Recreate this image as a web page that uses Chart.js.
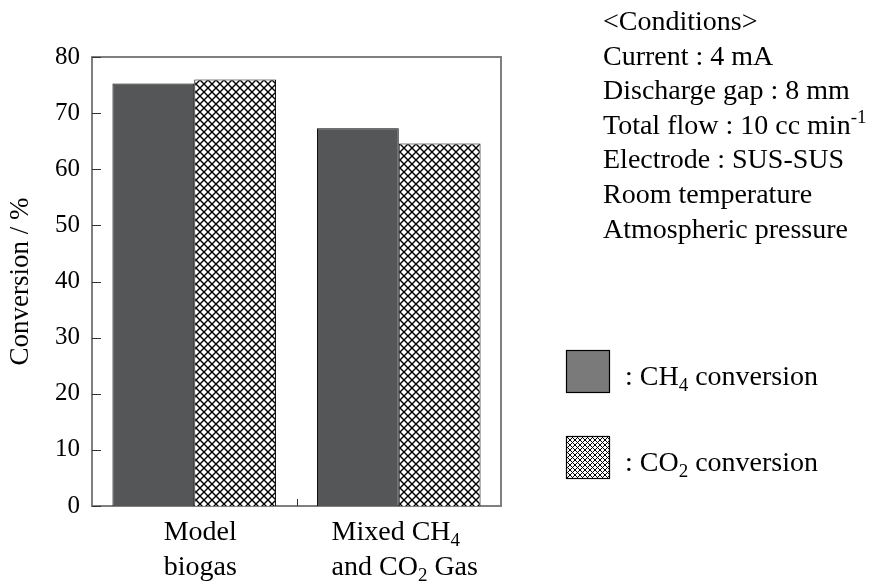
<!DOCTYPE html>
<html>
<head>
<meta charset="utf-8">
<script src="https://cdn.jsdelivr.net/npm/chart.js@4.4.1/dist/chart.umd.min.js"></script>
<style>
  html, body { margin: 0; padding: 0; background: #fff; }
  #wrap { width: 876px; height: 582px; position: relative; }
</style>
</head>
<body>
<div id="wrap"><canvas id="c" width="876" height="582"></canvas></div>
<script>
  // values
  const categories = ['Model biogas', 'Mixed CH4 and CO2 Gas'];
  const categoryLines = [
    ['Model', 'biogas'],
    ['Mixed CH_{4}', 'and CO_{2} Gas'],
  ];
  const ch4Conversion = [75.3, 67.3];
  const co2Conversion = [76.0, 64.6];
  const yTicks = [0, 10, 20, 30, 40, 50, 60, 70, 80];
  const conditions = [
    '<Conditions>',
    'Current : 4 mA',
    'Discharge gap : 8 mm',
    'Total flow : 10 cc min^{-1}',
    'Electrode : SUS-SUS',
    'Room temperature',
    'Atmospheric pressure',
  ];
  const legendLabels = [': CH_{4} conversion', ': CO_{2} conversion'];

  const FONT = "'Liberation Serif', 'Times New Roman', serif";
  const AXIS = '#7f7f7f';

  function hatch(size, lw) {
    const c = document.createElement('canvas');
    c.width = size; c.height = size;
    const g = c.getContext('2d');
    g.fillStyle = '#fff';
    g.fillRect(0, 0, size, size);
    g.strokeStyle = '#000';
    g.lineWidth = lw;
    g.beginPath();
    g.moveTo(-1, -1); g.lineTo(size + 1, size + 1);
    g.moveTo(size + 1, -1); g.lineTo(-1, size + 1);
    g.stroke();
    return document.getElementById('c').getContext('2d').createPattern(c, 'repeat');
  }

  // text with _{sub} and ^{sup} parts
  function richWidth(ctx, str, size) {
    let w = 0;
    str.split(/(_\{[^}]*\}|\^\{[^}]*\})/).forEach((part) => {
      if (!part) return;
      const small = part[0] === '_' || part[0] === '^';
      ctx.font = `${small ? Math.round(size * 0.68) : size}px ${FONT}`;
      w += ctx.measureText(small ? part.slice(2, -1) : part).width;
    });
    return w;
  }
  function drawRich(ctx, str, x, y, size) {
    ctx.textAlign = 'left';
    ctx.textBaseline = 'alphabetic';
    ctx.fillStyle = '#000';
    str.split(/(_\{[^}]*\}|\^\{[^}]*\})/).forEach((part) => {
      if (!part) return;
      let dy = 0;
      let txt = part;
      let fs = size;
      if (part[0] === '_') { fs = Math.round(size * 0.68); dy = size * 0.22; txt = part.slice(2, -1); }
      if (part[0] === '^') { fs = Math.round(size * 0.68); dy = -size * 0.38; txt = part.slice(2, -1); }
      ctx.font = `${fs}px ${FONT}`;
      ctx.fillText(txt, x, y + dy);
      x += ctx.measureText(txt).width;
    });
  }

  const co2Fill = hatch(8, 1.4);
  const co2LegendFill = hatch(5, 1);

  const extras = {
    id: 'extras',
    afterDatasetsDraw(chart) {
      const { ctx, chartArea: a, scales } = chart;
      ctx.save();
      // frame top and right
      ctx.strokeStyle = AXIS;
      ctx.lineWidth = 2;
      ctx.beginPath();
      ctx.moveTo(a.left, a.top); ctx.lineTo(a.right, a.top); ctx.lineTo(a.right, a.bottom);
      ctx.stroke();
      // inward ticks
      ctx.strokeStyle = '#333';
      ctx.lineWidth = 1;
      ctx.beginPath();
      yTicks.forEach((v) => {
        const y = Math.round(scales.y.getPixelForValue(v)) + 0.5;
        ctx.moveTo(a.left, y); ctx.lineTo(a.left + 9, y);
      });
      const mid = Math.round((scales.x.getPixelForValue(0) + scales.x.getPixelForValue(1)) / 2) + 0.5;
      ctx.moveTo(mid, a.bottom); ctx.lineTo(mid, a.bottom - 7);
      ctx.stroke();
      ctx.restore();
    },
    afterDraw(chart) {
      const { ctx, scales } = chart;
      ctx.save();
      // category labels
      categoryLines.forEach((lines, i) => {
        const cx = scales.x.getPixelForValue(i) + 6;
        const w = Math.max(...lines.map((l) => richWidth(ctx, l, 28)));
        lines.forEach((l, j) => drawRich(ctx, l, cx - w / 2, 540 + j * 35, 28));
      });
      // conditions block
      conditions.forEach((t, i) => drawRich(ctx, t, 603, 30 + i * 34.6, 28));
      // legend
      const fills = ['#7a7a7a', co2LegendFill];
      const boxTop = [350, 436];
      fills.forEach((f, i) => {
        ctx.fillStyle = f;
        ctx.fillRect(566, boxTop[i], 44, 43);
        ctx.strokeStyle = '#000';
        ctx.lineWidth = 1.2;
        ctx.strokeRect(566.5, boxTop[i] + 0.5, 43, 42);
        drawRich(ctx, legendLabels[i], 625, boxTop[i] + 35, 28);
      });
      ctx.restore();
    },
  };

  new Chart(document.getElementById('c'), {
    type: 'bar',
    data: {
      labels: categories,
      datasets: [
        { label: 'CH4 conversion', data: ch4Conversion, backgroundColor: '#555657', borderColor: '#000', borderWidth: 1, barPercentage: 1, categoryPercentage: 0.8 },
        { label: 'CO2 conversion', data: co2Conversion, backgroundColor: co2Fill, borderColor: '#000', borderWidth: 1, barPercentage: 1, categoryPercentage: 0.8 },
      ],
    },
    options: {
      responsive: false,
      animation: false,
      devicePixelRatio: 1,
      layout: { padding: { top: 57, right: 375, bottom: 76, left: 0 } },
      plugins: { legend: { display: false }, tooltip: { enabled: false } },
      scales: {
        x: {
          ticks: { display: false },
          grid: { display: false, drawTicks: false },
          border: { display: true, color: AXIS, width: 2 },
          afterFit: (s) => { s.height = 0; },
        },
        y: {
          min: 0,
          max: 80,
          afterBuildTicks: (s) => { s.ticks = yTicks.map((v) => ({ value: v })); },
          ticks: { color: '#000', font: { family: FONT, size: 25 }, padding: 12 },
          grid: { display: false, drawTicks: false },
          border: { display: true, color: AXIS, width: 2 },
          title: { display: true, text: 'Conversion / %', color: '#000', font: { family: FONT, size: 27 }, padding: { top: 5, bottom: 0 } },
          afterFit: (s) => { s.width = 92; },
        },
      },
    },
    plugins: [extras],
  });
</script>
</body>
</html>
